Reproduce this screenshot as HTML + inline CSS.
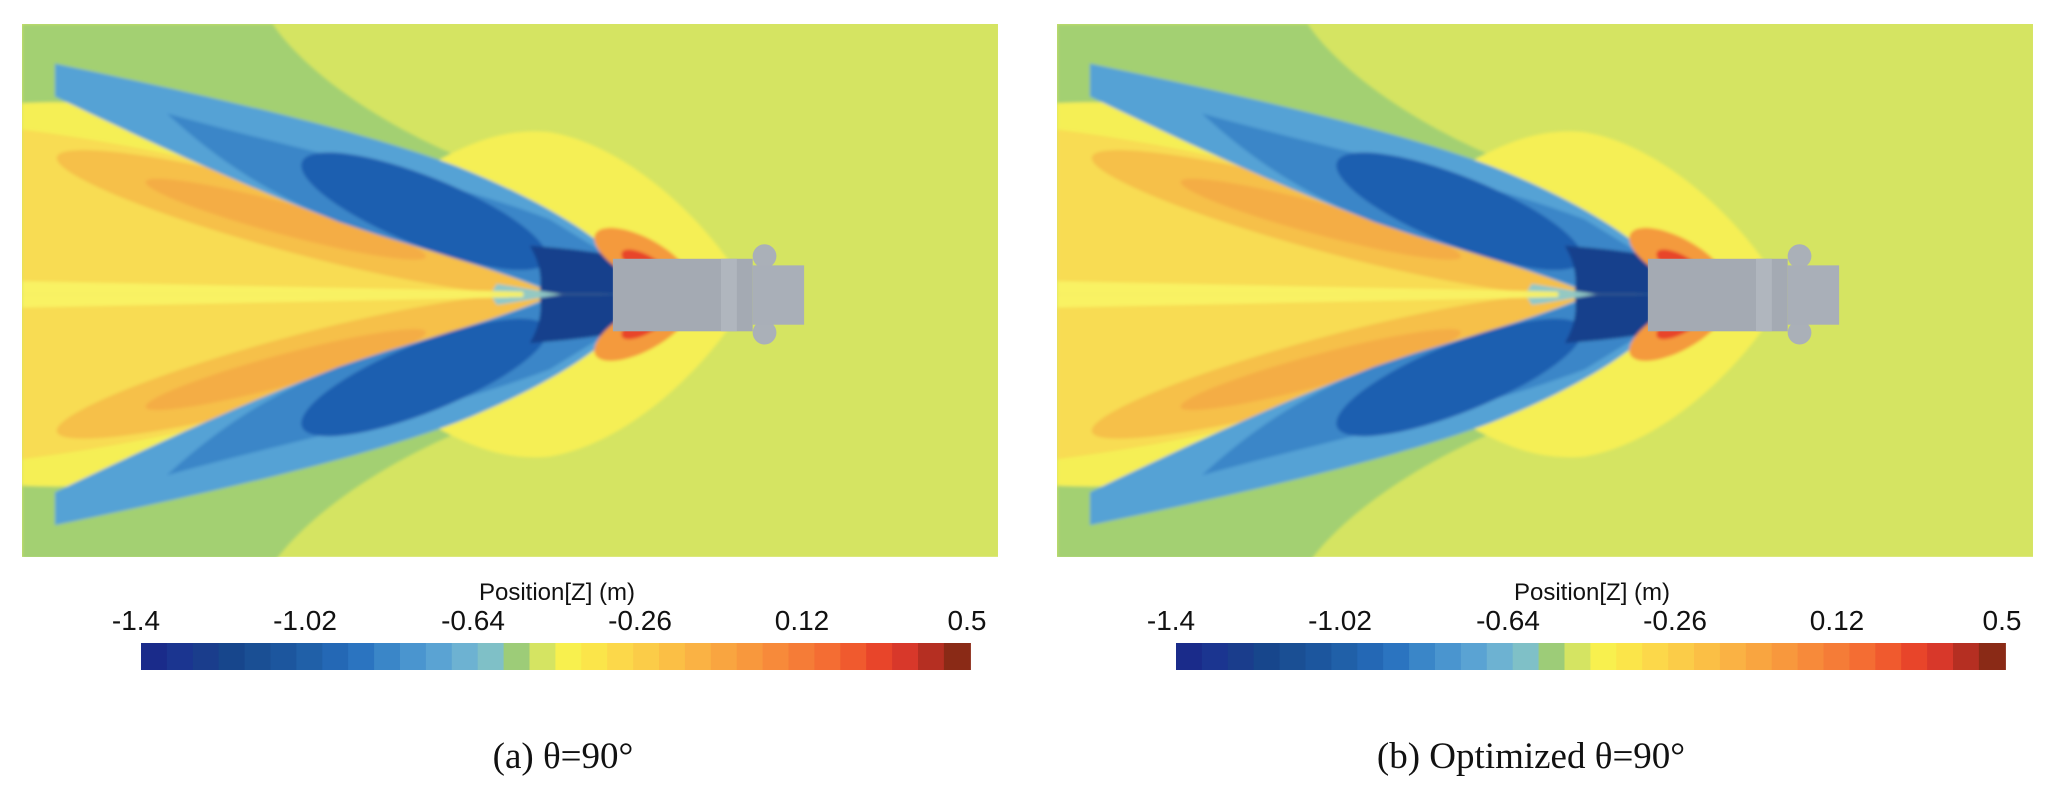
<!DOCTYPE html>
<html><head><meta charset="utf-8"><style>html,body{margin:0;padding:0;background:#fff}svg{display:block}</style></head>
<body>
<svg width="2067" height="789" viewBox="0 0 2067 789" xmlns="http://www.w3.org/2000/svg">
<defs>
<filter id="bl" x="-5%" y="-5%" width="110%" height="110%"><feGaussianBlur stdDeviation="1.2"/></filter>
<clipPath id="cp"><rect x="0" y="0" width="740" height="404"/></clipPath>
<g id="half">
  <path d="M0,0 L190,0 C210,30 260,70 330,100 C380,120 420,140 445,160 L445,205 L0,205 Z" fill="#a3d072"/>
  <path d="M0,60 C100,55 200,80 300,112 C330,95 360,78 400,82 C460,92 520,150 548,198 L548,205 L0,205 Z" fill="#f5ef55"/>
  <path d="M0,140 L20,140 C25,120 20,100 0,90 Z" fill="#a3d072"/>
  <path d="M0,80 C120,95 250,130 360,165 C390,180 420,190 440,205 L0,205 Z" fill="#f8dc52"/>
  <ellipse cx="210" cy="150" rx="190" ry="24" transform="rotate(15 210 150)" fill="#f6c04a"/>
  <ellipse cx="200" cy="148" rx="110" ry="12" transform="rotate(15 200 148)" fill="#f4ad45"/>
  <path d="M25,30 C120,50 250,78 330,108 C380,128 425,152 452,178 L452,205 L405,205 C370,190 330,178 290,166 C220,146 140,110 25,55 Z" fill="#55a2d5"/>
  <path d="M110,68 C220,98 320,118 400,148 L452,180 L452,205 L412,205 C360,186 300,170 240,150 C190,130 150,105 110,68 Z" fill="#3b86c8"/>
  <ellipse cx="305" cy="142" rx="100" ry="26" transform="rotate(22 305 142)" fill="#1e5fb0"/>
  <path d="M385,168 C410,170 430,172 452,176 L452,205 L392,205 C395,192 392,180 385,168 Z" fill="#163f8c"/>
  <path d="M360,197 C380,200 395,203 410,205 L355,205 Z" fill="#8fc8c8"/>
  <ellipse cx="470" cy="178" rx="40" ry="16" transform="rotate(28 470 178)" fill="#f49a3e"/>
  <ellipse cx="474" cy="184" rx="22" ry="8" transform="rotate(30 474 184)" fill="#e8452a"/>
  <path d="M0,195 L380,203 L380,205 L0,205 Z" fill="#f9f264"/>
</g>
<g id="panel">
  <rect x="0" y="0" width="740" height="404" fill="#d5e462"/>
  <g clip-path="url(#cp)" filter="url(#bl)">
    <use href="#half"/>
    <use href="#half" transform="translate(0,410) scale(1,-1)"/>
  </g>
  <circle cx="563" cy="176" r="9" fill="#aab0b8"/>
  <circle cx="563" cy="234" r="9" fill="#aab0b8"/>
  <rect x="448" y="178" width="106" height="55" fill="#a4aab3"/>
  <rect x="530" y="178" width="12" height="55" fill="#b0b6be"/>
  <rect x="554" y="183" width="39" height="45" fill="#a9afb8"/>
</g>
<g id="bar">
  <g transform="translate(141,643)">
    <rect x="0" width="26.5" height="27" fill="#1a2b8a"/><rect x="25.9" width="26.5" height="27" fill="#1b3590"/><rect x="51.8" width="26.5" height="27" fill="#1a3d8c"/><rect x="77.7" width="26.5" height="27" fill="#17468c"/><rect x="103.6" width="26.5" height="27" fill="#1a4f94"/><rect x="129.5" width="26.5" height="27" fill="#1c569e"/><rect x="155.4" width="26.5" height="27" fill="#2060a8"/><rect x="181.3" width="26.5" height="27" fill="#2468b5"/><rect x="207.2" width="26.5" height="27" fill="#2b74c0"/><rect x="233.1" width="26.5" height="27" fill="#3a86c8"/><rect x="259" width="26.5" height="27" fill="#4a95cf"/><rect x="284.9" width="26.5" height="27" fill="#5aa3d3"/><rect x="310.8" width="26.5" height="27" fill="#6db2d2"/><rect x="336.7" width="26.5" height="27" fill="#7fc0c7"/><rect x="362.6" width="26.5" height="27" fill="#9dcc78"/><rect x="388.5" width="26.5" height="27" fill="#d5e462"/><rect x="414.4" width="26.5" height="27" fill="#f8f04e"/><rect x="440.3" width="26.5" height="27" fill="#fbe54a"/><rect x="466.2" width="26.5" height="27" fill="#fcd84a"/><rect x="492.1" width="26.5" height="27" fill="#fbcc48"/><rect x="518" width="26.5" height="27" fill="#fbbf45"/><rect x="543.9" width="26.5" height="27" fill="#fab244"/><rect x="569.8" width="26.5" height="27" fill="#f9a540"/><rect x="595.7" width="26.5" height="27" fill="#f8983d"/><rect x="621.6" width="26.5" height="27" fill="#f78a3a"/><rect x="647.5" width="26.5" height="27" fill="#f57c37"/><rect x="673.4" width="26.5" height="27" fill="#f46d33"/><rect x="699.3" width="26.5" height="27" fill="#f05a2e"/><rect x="725.2" width="26.5" height="27" fill="#e8452a"/><rect x="751.1" width="26.5" height="27" fill="#d8382a"/><rect x="777" width="26.5" height="27" fill="#b52f22"/><rect x="802.9" width="27" height="27" fill="#8a2a16"/>
  </g>
  <g font-family="Liberation Sans, sans-serif" fill="#111">
    <text x="557" y="600" font-size="24" text-anchor="middle">Position[Z] (m)</text>
    <g font-size="28" text-anchor="middle">
      <text x="136" y="630">-1.4</text><text x="305" y="630">-1.02</text><text x="473" y="630">-0.64</text><text x="640" y="630">-0.26</text><text x="802" y="630">0.12</text><text x="967" y="630">0.5</text>
    </g>
  </g>
</g>
</defs>
<rect width="2067" height="789" fill="#fff"/>
<use href="#panel" transform="translate(22,24) scale(1.3189)"/>
<use href="#panel" transform="translate(1057,24) scale(1.3189)"/>
<use href="#bar"/>
<use href="#bar" transform="translate(1035,0)"/>
<g font-family="Liberation Serif, serif" font-size="37" fill="#111" text-anchor="middle">
  <text x="563" y="768">(a) θ=90°</text>
  <text x="1531" y="768">(b) Optimized θ=90°</text>
</g>
</svg>
</body></html>
